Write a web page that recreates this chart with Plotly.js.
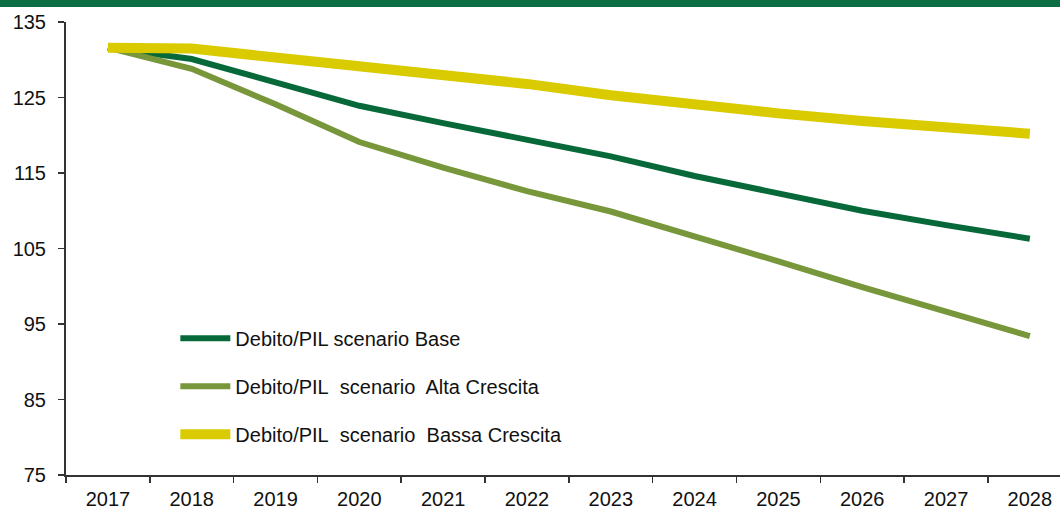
<!DOCTYPE html>
<html>
<head>
<meta charset="utf-8">
<script src="https://cdn.plot.ly/plotly-3.0.1.min.js"></script>
<style>html,body{margin:0;padding:0;background:#fff;}#chart{width:1060px;height:511px;}</style>
</head>
<body>
<div id="chart"></div>
<script>
const years = ['2017','2018','2019','2020','2021','2022','2023','2024','2025','2026','2027','2028'];
const base  = [131.6,130.1,127.0,123.9,121.6,119.4,117.2,114.6,112.2,110.0,108.1,106.3];
const alta  = [131.6,128.8,124.1,119.1,115.7,112.6,109.9,106.7,103.3,99.9,96.6,93.4];
const bassa = [131.6,131.5,130.3,129.2,128.0,126.8,125.3,124.0,122.9,121.9,121.0,120.2];
const names = ['Debito/PIL scenario Base','Debito/PIL\u00a0 scenario\u00a0 Alta Crescita','Debito/PIL\u00a0 scenario\u00a0 Bassa Crescita'];
const yTicks = [75,85,95,105,115,125,135];

const traces = [
  {x: years, y: base,  name: names[0], legendgroup:'a', type:'scatter', mode:'lines', line:{color:'#076939', width:6}},
  {x: years, y: alta,  name: names[1], legendgroup:'b', type:'scatter', mode:'lines', line:{color:'#78963A', width:6}},
  {x: years, y: bassa, name: names[2], legendgroup:'c', type:'scatter', mode:'lines', line:{color:'#D9CB00', width:10}}
];

const layout = {
  width: 1060, height: 511,
  margin: {l: 66, r: 0, t: 22, b: 36},
  paper_bgcolor: '#fff', plot_bgcolor: '#fff',
  font: {family: '"Liberation Sans", Arial, sans-serif', color: '#111', size: 20},
  showlegend: true,
  legend: {
    x: 0.11, y: 0.345, xanchor: 'left', yanchor: 'top',
    font: {size: 20, color: '#111'},
    traceorder: 'grouped', tracegroupgap: 19,
    bgcolor: 'rgba(0,0,0,0)', itemwidth: 50
  },
  xaxis: {
    type: 'category', range: [-0.5, 11.36],
    showline: true, linecolor: '#333', linewidth: 2,
    ticks: 'outside', tickson: 'boundaries', ticklen: 6, tickwidth: 1.5, tickcolor: '#333',
    showgrid: false, zeroline: false, tickfont: {size: 20}, ticklabelstandoff: 5, fixedrange: true
  },
  yaxis: {
    range: [75, 135], tickvals: yTicks, ticktext: yTicks.map(String),
    showline: true, linecolor: '#333', linewidth: 2,
    ticks: 'outside', ticklen: 6, tickwidth: 1.5, tickcolor: '#333',
    showgrid: false, zeroline: false, tickfont: {size: 20}, ticklabelstandoff: 8
  },
  shapes: [
    {type: 'rect', xref: 'paper', yref: 'paper', x0: -0.1, x1: 1.1, y0: 1.0331, y1: 1.1, fillcolor: '#0B6E45', line: {width: 0}, layer: 'above'}
  ]
};
Plotly.newPlot('chart', traces, layout, {displayModeBar: false, staticPlot: true});
</script>
</body>
</html>
